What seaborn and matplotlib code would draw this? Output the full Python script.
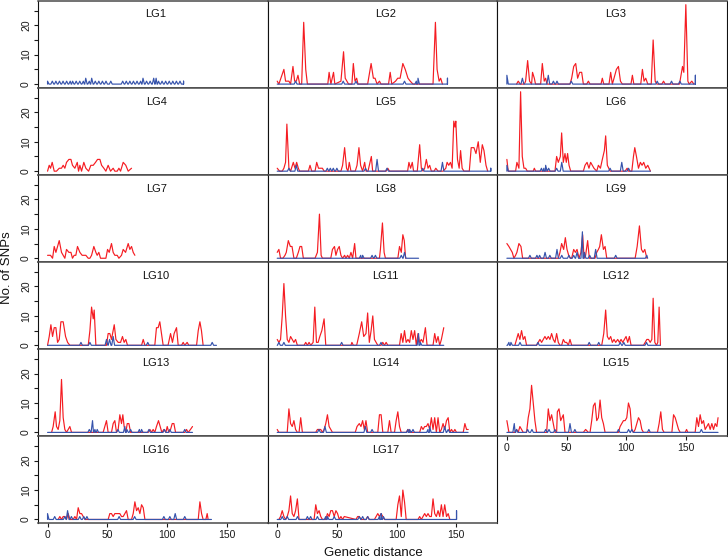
import numpy as np
import pandas as pd
import seaborn as sns
import matplotlib.pyplot as plt
from matplotlib.transforms import blended_transform_factory

# ---------------- data ----------------
GROUPS = ["LG%d" % i for i in range(1, 18)]

# red series: polyline vertices (genetic distance, No. of SNPs)
LG1_RED = []
LG2_RED = [(0,1),(1.4,0),(5.6,5),(7,1),(8.4,1),(9.8,1),(11.2,0),(13.2,6),(14.6,1),(16,1),(17.4,3),(18.8,0),(20.5,0),(22.2,21),(23.9,5),(25.3,0),(42.4,0),(43.5,4),(45,0),(47.2,4),(48.3,0),(53.4,1),(55.6,11),(57,2),(58.4,1),(59.8,0),(62.6,0),(63.8,7),(65.2,1),(66.6,2),(67.7,0),(75.8,0),(78.7,7),(80.6,2),(82,2),(83.7,0),(85.7,1),(87,0),(93.3,0),(94.7,4),(96,0),(99.2,1),(101,2),(103,2),(105.3,7),(107.3,5),(109.6,2),(111.5,1),(113.8,0),(130.6,0),(132.6,21),(134,5),(135.7,1),(137,2),(138.5,0)]
LG3_RED = [(8.1,0),(9.5,1),(11.2,0),(14.6,0),(15.7,1),(17.4,8),(19,1),(20.7,0),(21.5,4),(23,2),(24,0),(28.3,0),(29.7,7),(31.3,1),(32.5,2),(33.6,0),(52.9,0),(54.3,2),(56,6),(57.7,7),(59.3,2),(61,4),(62.7,4),(64.1,0),(66.9,0),(68.3,1),(69.7,0),(78.9,0),(80,2),(81.2,0),(85.6,0),(87,4),(88.4,0),(89.8,2),(91.8,5),(93.5,6),(95.2,1),(96.8,0),(104,0),(105.2,3),(106.4,0),(112.2,0),(113.6,5),(115,1),(116.4,2),(118.1,0),(121,0),(122.6,15),(124.3,1),(125.7,0),(129.9,0),(131.3,1),(132.7,0),(144.7,0),(147.2,6),(148.3,4),(150,27),(151.7,1),(152.8,0),(155,1),(156.7,0)]
LG4_RED = [(0,0),(1.4,2),(2.5,1),(3.9,3),(5.6,0),(7.5,0),(9.8,1),(11.7,1),(13.1,2),(14.5,1),(15.9,3),(17.9,4),(19.6,4),(20.9,2),(22.9,1),(24.9,3),(26,0),(27.1,2),(28.5,0),(30.4,3),(32.1,1),(34.4,0),(36.3,2),(38.3,2),(40.2,3),(41.9,4),(43.9,4),(45.3,2),(47.2,1),(48.9,0),(50.8,2),(52.8,0),(55,1),(56.4,0),(58.4,0),(59.8,1),(61.2,0),(63.4,3),(65.6,2),(67.6,0),(70.4,1)]
LG5_RED = [(0,1),(2,0),(4.2,0),(5.6,1),(7,3),(8.1,16),(9.8,1),(11.2,0),(13.5,3),(14.9,1),(16.3,3),(17.7,1),(18.8,0),(26.1,0),(27.5,2),(28.9,0),(31.7,0),(33.1,3),(34.6,1),(36,1),(37.9,1),(39.3,0),(53.4,0),(54.8,2),(56.5,8),(58.1,1),(59.3,0),(60.4,3),(61.8,0),(65.4,0),(66.9,2),(68.5,8),(69.9,2),(71.6,0),(73.3,3),(74.4,0),(76.1,0),(78.9,5),(80,0),(91.3,0),(92.7,1),(94.1,0),(109.3,0),(110.4,3),(111.8,1),(113.2,3),(114.3,0),(117.4,0),(119.4,9),(120.8,1),(122.2,0),(123.6,1),(125,4),(126.4,1),(127.8,2),(129.2,0),(131.5,0),(132.9,1),(134.8,0),(139,0),(141.3,1),(142.4,3),(143.8,2),(145.2,3),(146.6,1),(148,17),(149,15),(149.7,17),(151.1,4),(152.5,1),(153.7,7),(155,1),(156.5,0),(161,0),(162.6,8),(164.9,8),(166.6,6),(168.5,10),(170.2,3),(171.9,9),(173.3,7),(175,2),(176.4,0)]
LG6_RED = [(0,4),(1.1,0),(7.3,0),(8.4,3),(10.1,1),(11.5,27),(12.9,5),(14.3,1),(15.7,1),(17.1,0),(22.1,0),(23,1),(24.1,0),(40.3,0),(41.7,5),(43.1,3),(44.8,5),(45.9,13),(47.3,3),(48.7,6),(49.8,3),(50.9,6),(52.1,2),(53.5,0),(64.1,0),(65.5,2),(67.2,3),(68.8,1),(70.2,3),(71.6,2),(73,1),(75.3,0),(76.7,2),(78.4,1),(80,4),(81.7,7),(82.8,12),(84.2,2),(85.4,1),(86.5,0),(99.1,0),(100.8,1),(101.9,0),(104.7,0),(106.1,5),(107.2,8),(108.6,5),(110.3,1),(111.9,3),(113.3,2),(114.7,3),(116.4,1),(118.1,2),(119.2,1),(120.3,0)]
LG7_RED = [(0,1),(2.5,1),(4.2,0),(5.6,4),(7,2),(8.4,4),(9.8,6),(11.7,2),(13.1,1),(14.5,0),(15.9,3),(17.9,2),(19.6,2),(20.9,0),(22.3,1),(23.7,1),(25.1,4),(27.1,2),(29,1),(30.4,1),(32.1,1),(34.1,0),(35.5,0),(36.9,1),(38.8,4),(40.5,2),(41.6,1),(43,2),(44.4,0),(46.6,0),(48.9,0),(50.3,3),(51.7,2),(53.6,5),(55,2),(56.4,1),(58.4,1),(59.8,0),(62,1),(63.4,3),(65.4,2),(67.6,5),(69,3),(70.4,4),(71.8,2),(73.2,1)]
LG8_RED = [(0,2),(1.4,3),(2.8,0),(4.8,0),(6.5,1),(7.6,2),(9.3,6),(11,4),(12.4,4),(14,0),(16,0),(17.7,2),(19.1,4),(20.5,4),(21.9,0),(31.7,0),(33.7,2),(35.4,15),(36.8,1),(37.9,0),(44.9,0),(46.3,3),(48,4),(49.2,1),(50.6,3),(52,4),(53.4,1),(54.8,0),(56.5,1),(57.6,0),(59,1),(60.4,0),(61.8,2),(63.2,0),(64.9,5),(66,0),(85.7,0),(86.5,3),(88.2,12),(89.6,2),(90.7,0),(101.1,0),(102.5,4),(104,2),(105.3,8),(106.5,6),(107.6,0)]
LG9_RED = [(0,5),(1.7,4),(3.1,3),(4.5,2),(5.9,0),(7.3,1),(8.4,2),(10.1,5),(11.8,4),(13.2,0),(43.1,0),(44.5,2),(45.9,5),(47.6,3),(49,7),(50.4,3),(51.8,1),(53.2,0),(54.3,0),(56,3),(57.4,2),(58.8,3),(60.5,0),(62.1,2),(63.5,8),(64.7,0),(66,1),(67.7,6),(69.1,0),(73.9,0),(75.3,2),(76.7,3),(77.8,4),(79.2,8),(80.9,3),(82.3,4),(83.7,0),(107.5,0),(109.2,4),(111.1,11),(112.8,3),(114.2,2),(115.6,3),(117.3,0)]
LG10_RED = [(0,0),(1.4,3),(2.8,7),(4.2,3),(5.6,6),(7,6),(8.4,1),(9.8,2),(11.2,8),(13.1,8),(15.1,3),(16.8,1),(18.7,0),(34.1,0),(35.5,5),(36.9,13),(38.3,9),(39.1,12),(40.5,0),(49.4,0),(50.8,4),(52.2,4),(53.6,2),(55.9,7),(57.3,2),(59.2,1),(61.2,1),(62.8,3),(64.2,1),(65.6,2),(67,0),(78.8,0),(80.2,2),(81.6,0),(89.9,0),(91.3,6),(92.7,6),(94.1,8),(95.5,4),(96.9,0),(101,0),(103.1,4),(104.7,1),(106.1,4),(108.1,6),(109.5,0),(112.3,0),(113.7,1),(115,0),(117,1),(118.4,0),(124.9,0),(126.3,5),(127.7,8),(129,5),(130.4,0)]
LG11_RED = [(0,2),(1.4,1),(2.8,2),(4.2,10),(5.6,21),(7,10),(8.4,2),(9.8,1),(11.2,3),(12.6,2),(14,1),(15.4,2),(16.9,0),(22.5,0),(23.9,1),(25.3,0),(26.7,1),(28.1,0),(30.1,1),(31.5,13),(32.9,1),(34.3,1),(35.7,3),(37.4,5),(39.3,9),(40.7,0),(61.8,0),(62.6,1),(63.8,0),(66.6,0),(68.8,4),(70.8,8),(72.5,3),(74.4,4),(75.8,11),(77.2,1),(78.7,5),(80.1,10),(81.5,2),(82.9,1),(84.3,0),(87.1,0),(88.5,1),(89.9,0),(91.3,1),(92.7,0),(102.5,0),(103.9,4),(105.3,1),(106.7,5),(108.1,1),(109.6,2),(111,1),(112.4,5),(113.8,2),(115.2,5),(116.6,0),(118,4),(119.4,1),(120.8,2),(122.2,1),(124.2,6),(125.6,0),(130.6,0),(132,4),(133.4,1),(134.8,3),(136.2,0),(137.6,2),(139.6,6)]
LG12_RED = [(6.7,0),(8.1,2),(9.5,4),(10.9,2),(12.3,5),(13.7,2),(15.1,3),(16.5,0),(24.9,0),(26.3,1),(27.7,2),(29.1,1),(30.5,2),(31.9,3),(33.3,2),(34.7,3),(36.1,2),(37.5,4),(38.9,2),(40.3,1),(41.7,4),(43.1,1),(44.5,0),(45.9,0),(47.3,2),(48.7,1),(50.1,1),(51.5,0),(52.9,2),(54.3,0),(79.5,0),(81.2,4),(82.8,12),(84.2,3),(85.6,2),(87,3),(88.4,1),(89.8,2),(91.2,1),(92.9,2),(94.3,1),(95.7,2),(97.1,1),(98.5,2),(99.9,3),(101.3,1),(102.7,3),(104.1,0),(114.5,0),(115.9,1),(117.3,2),(118.7,2),(120.1,1),(121.5,2),(122.6,16),(124,1),(125.4,0),(126.5,1),(127.6,13),(128.7,0)]
LG13_RED = [(3.4,0),(4.7,2),(6.4,7),(7.5,2),(8.9,1),(10.3,4),(11.7,18),(13.1,5),(14.5,1),(15.9,0),(17.3,1),(18.7,2),(20.1,0),(46.6,0),(48,2),(49.4,4),(50.8,0),(53.6,0),(55,3),(56.4,4),(57.8,0),(59.2,1),(60.6,6),(62,3),(63.1,6),(64.2,2),(65.6,0),(66.8,3),(68.2,3),(69.6,0),(84.4,0),(85.8,1),(87.2,0),(88.5,1),(89.9,0),(91.3,2),(93,4),(94.4,2),(95.8,0),(97.5,1),(99.2,0),(100.3,2),(101.7,0),(103.1,1),(104.5,3),(105.9,3),(107.3,0),(115.1,0),(116.5,1),(117.9,0),(119.8,1),(121.5,2)]
LG14_RED = [(0,1),(1.4,0),(8.4,0),(9.8,8),(11.2,3),(12.6,2),(14,4),(15.4,1),(16.9,0),(18.3,0),(19.7,5),(21.1,0),(32.3,0),(33.7,1),(36.5,1),(37.9,0),(39.3,1),(40.7,3),(42.1,6),(43.5,2),(44.9,1),(46.3,0),(65.4,0),(66.9,2),(68.8,3),(70.2,2),(71.6,4),(73,1),(74.4,4),(75.8,0),(84.3,0),(85.7,6),(87.1,6),(88.5,0),(92.7,0),(94.1,4),(95.5,0),(98.3,0),(99.7,4),(101.1,7),(102.5,2),(103.9,0),(108.1,0),(109.6,1),(111,0),(119.4,0),(120.8,2),(122.2,1),(123.6,2),(125,2),(126.4,3),(127.8,1),(129.2,5),(130.6,1),(132,5),(133.4,0),(134.8,5),(136.2,0),(137.6,1),(139,3),(140.4,1),(141.9,4),(143.3,5),(144.7,0),(146.1,1),(147.5,0),(148.9,1),(150.3,0),(155.9,0),(157.3,3),(158.7,1),(160.1,1)]
LG15_RED = [(0,4),(1.7,0),(6.7,0),(8.1,1),(9.5,0),(10.9,2),(12.3,1),(13.7,0),(16.5,0),(17.9,5),(19.3,8),(20.7,16),(22.1,10),(23.5,4),(24.9,0),(33.3,0),(34.7,8),(36.1,4),(37.5,6),(38.9,3),(40.3,0),(41.7,0),(42.3,7),(43.7,8),(45.1,4),(47.3,6),(48.7,0),(64.1,0),(66,1),(68.3,0),(69.7,0),(71.1,4),(72.5,9),(73.9,10),(75.3,4),(76.7,5),(78.1,11),(79.5,5),(80.9,3),(82.3,0),(93.5,0),(94.9,2),(96.3,3),(97.7,4),(99.1,4),(100.5,5),(101.9,10),(103.3,8),(104.7,1),(106.1,0),(107.5,1),(108.9,3),(110.3,5),(111.7,4),(113.1,1),(114.5,0),(126.2,0),(127.6,3),(129,7),(130.4,1),(131.8,0),(138.3,0),(139.7,6),(141.1,5),(142.5,3),(143.9,1),(145.3,0),(149.5,0),(150.6,1),(151.7,0),(157.8,0),(159.2,5),(160.6,2),(162,6),(163.4,3),(164.8,4),(166.2,1),(167.6,2),(169,3),(170.4,1),(171.8,3),(173.2,1),(174.6,3),(176,2),(177,5)]
LG16_RED = [(8.9,0),(10.3,1),(11.7,0),(13.1,1),(14.5,1),(15.9,0),(17.3,2),(18.7,0),(21.5,0),(22.9,1),(24.3,0),(25.7,4),(27.1,2),(28.5,2),(29.9,1),(31.3,0),(50.8,0),(52.2,2),(53.6,2),(55,1),(56.4,2),(57.8,2),(59.2,2),(60.6,2),(62,1),(63.4,1),(64.8,2),(66.2,3),(67.6,0),(70.4,0),(71.8,2),(73.2,6),(74.6,3),(76,4),(77.4,2),(78.8,5),(80.2,4),(81.6,0),(126.3,0),(127.7,6),(129.1,2),(130.4,0),(132.7,0),(133.8,2),(134.6,0)]
LG17_RED = [(1.4,0),(2.8,1),(4.2,3),(5.6,1),(7,0),(8.4,1),(9.8,3),(11.2,8),(12.6,2),(14,1),(15.4,3),(16.9,7),(18.3,0),(30.9,0),(32.3,5),(33.7,2),(35.1,3),(36.5,1),(37.9,0),(40.7,0),(42.1,2),(43.5,1),(44.9,3),(46.3,3),(47.8,1),(49.2,3),(50.6,2),(52,0),(53.4,1),(54.8,0),(56.2,1),(66,0),(67.4,1),(68.8,1),(70.2,0),(74.4,0),(75.8,1),(77.2,0),(81.5,0),(82.9,1),(84.3,2),(85.7,1),(87.1,2),(88.5,1),(89.9,0),(99.7,0),(101.1,5),(102.5,8),(104,1),(105.3,10),(106.7,6),(108.1,0),(118,0),(119.4,1),(120.8,0),(122.2,1),(123.6,2),(125,1),(126.4,2),(127.8,1),(129.2,1),(130.6,7),(132,2),(133.4,1),(134.8,3),(136.2,1),(137.6,5),(139,1),(140.4,5),(141.9,1),(143.3,2),(144.7,0)]

# blue series: non-zero counts (position, No. of SNPs); zero elsewhere up to its length
LG1_BLUE = [(0,1),(4,1),(7,1),(10,1),(13,1),(16,1),(19,1),(21,1),(24,1),(27,1),(30,1),(32,2),(35,1),(37,2),(40,1),(43,1),(46,1),(49,1),(53,1),(63,1),(66,1),(69,1),(72,1),(75,1),(78,1),(80,2),(83,1),(86,1),(89,2),(91,2),(93,1),(96,1),(99,1),(102,1),(105,1),(108,1),(111,1),(114,1)]
LG2_BLUE = [(15.4,1),(55.3,1),(66,1),(106.7,1),(116.6,1),(118,2),(142.7,2)]
LG3_BLUE = [(0,3),(13,2),(34.7,3),(39,1),(42,1),(54,1),(126,1),(138,1),(145,1),(158,3)]
LG4_BLUE = []
LG5_BLUE = [(9.8,1),(16,2),(42,1),(44.5,1),(47,1),(50,1),(74,1),(83.7,4),(92,1),(122,1),(138.5,3),(179,1)]
LG6_BLUE = [(0,2),(29,1),(31,1),(32.5,2),(35,1),(41.7,1),(46,3),(86.5,1),(96.3,3),(102,1)]
LG7_BLUE = []
LG8_BLUE = [(70,1),(71.6,1),(79.5,1),(82.3,1),(104,1),(106.7,2)]
LG9_BLUE = [(19.3,1),(25.2,1),(27.4,1),(32,2),(36,1),(42,3),(46,1),(52,1),(56,1),(58.8,2),(63.3,9),(65,2),(69.4,1),(74.4,3),(91.2,1),(117.3,1)]
LG10_BLUE = [(28,1),(35.5,1),(49.4,2),(52,2),(55,3),(84,1),(138,1)]
LG11_BLUE = [(1.4,1),(5.6,1),(54,1),(87,1),(118.5,4),(120,1)]
LG12_BLUE = [(1.7,1),(3.4,1),(11,1),(26,1),(69,1),(77,1),(95,1),(98,1),(117,1)]
LG13_BLUE = [(35,1),(37.7,4),(39.7,1),(41.6,1),(59,1),(64.8,2),(66.5,1),(69.6,1),(77,1),(78.8,1),(85,1),(98,1),(102.5,1),(115,1)]
LG14_BLUE = [(35,1),(40,2),(73.9,2),(79.5,1),(109.6,1),(111,1),(113.8,1),(126.4,1),(127.8,2),(140.4,2),(143.3,1)]
LG15_BLUE = [(6.2,3),(8.1,1),(17.4,1),(21,1),(32.5,1),(35.3,1),(40.3,1),(52.9,3),(57,1),(93.5,1),(102,1),(104.7,1),(119,1),(163,1)]
LG16_BLUE = [(0,2),(6,1),(14.5,1),(16.8,3),(20,1),(27,1),(30.4,1),(33,1),(60,1),(73,1),(97.5,1),(102.5,1),(107,2),(115,1)]
LG17_BLUE = [(4.2,1),(8.4,1),(17,1),(25.3,1),(28,1),(33.7,1),(40.7,1),(42.1,1),(47.8,1),(68.8,1),(71.6,1),(75.8,1),(85.7,1),(87.1,2),(89,1),(150.3,3)]

BLUE_LENGTH = [114, 142.7, 158, 0, 179, 120.3, 0, 118.5, 118, 141.6, 139.6, 128.5, 121.5, 160, 177, 137.4, 150.3]

X_TICKS = [0, 50, 100, 150]
Y_TICKS = [0, 5, 10, 15, 20, 25]
Y_TICK_LABELS = ["0", "", "10", "", "20", ""]

RED_SERIES = [LG1_RED, LG2_RED, LG3_RED, LG4_RED, LG5_RED, LG6_RED, LG7_RED, LG8_RED, LG9_RED,
              LG10_RED, LG11_RED, LG12_RED, LG13_RED, LG14_RED, LG15_RED, LG16_RED, LG17_RED]
BLUE_SERIES = [LG1_BLUE, LG2_BLUE, LG3_BLUE, LG4_BLUE, LG5_BLUE, LG6_BLUE, LG7_BLUE, LG8_BLUE, LG9_BLUE,
               LG10_BLUE, LG11_BLUE, LG12_BLUE, LG13_BLUE, LG14_BLUE, LG15_BLUE, LG16_BLUE, LG17_BLUE]

RED_COLOR = "#f51c22"
BLUE_COLOR = "#3653ac"


def blue_polyline(peaks, length, hw=1.2):
    pts = [(0.0, 0.0), (float(length), 0.0)]
    for x, y in peaks:
        pts += [(max(x - hw, 0.0), 0.0), (float(x), float(y)), (min(x + hw, length), 0.0)]
    pts.sort(key=lambda p: p[0])
    return pts


rows = []
for name, red, blue, L in zip(GROUPS, RED_SERIES, BLUE_SERIES, BLUE_LENGTH):
    for i, (x, y) in enumerate(red):
        rows.append((name, "red", i, x, y))
    if L:
        for i, (x, y) in enumerate(blue_polyline(blue, L)):
            rows.append((name, "blue", i, x, y))
df = pd.DataFrame(rows, columns=["group", "series", "order", "distance", "snps"])

# ---------------- plotting ----------------
sns.set_theme(style="ticks")
plt.rcParams["font.family"] = ["Liberation Sans", "DejaVu Sans"]
plt.rcParams["axes.linewidth"] = 0.8
plt.rcParams["axes.edgecolor"] = "#1a1a1a"

fig, axes = plt.subplots(6, 3, figsize=(7.28, 5.58), dpi=100, sharex=True, sharey=True)
fig.subplots_adjust(left=38 / 728, right=727 / 728, top=0.999, bottom=1 - 523 / 558,
                    wspace=0, hspace=0)

for idx, ax in enumerate(axes.flat):
    if idx >= len(GROUPS):
        ax.set_visible(False)
        continue
    name = GROUPS[idx]
    sub = df[df["group"] == name]
    red = sub[sub["series"] == "red"]
    blue = sub[sub["series"] == "blue"]
    if len(red):
        sns.lineplot(data=red, x="distance", y="snps", ax=ax, color=RED_COLOR, linewidth=0.85,
                     estimator=None, sort=False, legend=False, zorder=2)
    if len(blue):
        sns.lineplot(data=blue, x="distance", y="snps", ax=ax, color=BLUE_COLOR, linewidth=0.85,
                     estimator=None, sort=False, legend=False, zorder=3)
    ax.set_xlabel("")
    ax.set_ylabel("")
    tr = blended_transform_factory(ax.transData, ax.transAxes)
    ax.text(91, 0.84, name, transform=tr, ha="center", va="center", fontsize=8, color="#111111")
    for side in ("left", "right"):
        ax.spines[side].set_color("#111111")
        ax.spines[side].set_linewidth(0.8)
    for side in ("top", "bottom"):
        ax.spines[side].set_color("#4a4a4a")
        ax.spines[side].set_linewidth(1.1)

axes[0, 0].set_xlim(-8, 184.5)
axes[0, 0].set_ylim(-1.2, 28.4)
axes[0, 0].set_xticks(X_TICKS)
axes[0, 0].set_yticks(Y_TICKS)
axes[0, 0].set_yticklabels(Y_TICK_LABELS)

bottom_idx = {14, 15, 16}
for idx, ax in enumerate(axes.flat):
    if idx >= len(GROUPS):
        continue
    col = idx % 3
    is_bottom = idx in bottom_idx
    ax.tick_params(axis="x", bottom=is_bottom, labelbottom=is_bottom, length=3, width=0.8,
                   pad=2, labelsize=7.5, colors="#1a1a1a", direction="out")
    ax.tick_params(axis="y", left=(col == 0), labelleft=(col == 0), length=3, width=0.8,
                   pad=2, labelsize=7.5, colors="#1a1a1a", direction="out", labelrotation=90)
    for lab in ax.get_yticklabels():
        lab.set_va("center")

fig.text(7 / 728, 1 - 268 / 558, "No. of SNPs", rotation=90, ha="center", va="center",
         fontsize=9.5, color="#111111")
fig.text(373 / 728, 1 - 556 / 558, "Genetic distance", ha="center", va="baseline",
         fontsize=9.5, color="#111111")

fig.savefig("out.png", dpi=100)
